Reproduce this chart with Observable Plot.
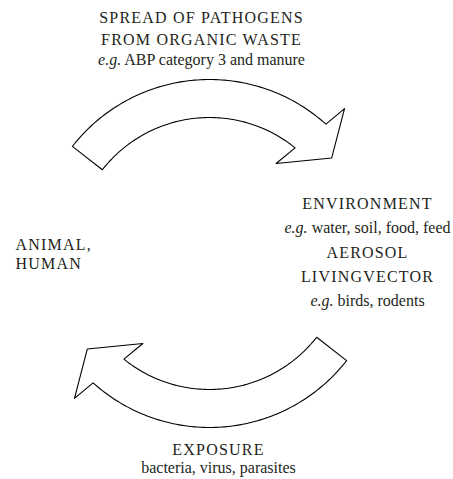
<!DOCTYPE html>
<html><head><meta charset="utf-8">
<script src="https://cdn.jsdelivr.net/npm/d3@7"></script>
<script src="https://cdn.jsdelivr.net/npm/@observablehq/plot@0.6"></script>
<style>
body{margin:0;background:#fff}
</style>
</head><body>
<div id="chart"></div>
<script>
// ---- text content ----
const topLines = ["SPREAD OF PATHOGENS", "FROM ORGANIC WASTE", "e.g. ABP category 3 and manure"];
const rightLines = ["ENVIRONMENT", "e.g. water, soil, food, feed", "AEROSOL", "LIVINGVECTOR", "e.g. birds, rodents"];
const leftLines = ["ANIMAL,", "HUMAN"];
const bottomLines = ["EXPOSURE", "bacteria, virus, parasites"];

// ---- cycle arrows (polar description around the cycle centre) ----
const arrowRadii = {outer: 174, inner: 136};
const arrowTailAngle = 142;          // degrees
const arrowHeadBase = {outer: 48, inner: 51};
const arrowHead = [[47, 198], [38, 155], [53.5, 112]]; // [angle, radius]
const arrowRotations = [0, 180];

const W = 453, H = 479;
const C = [209, 253];
const rad = Math.PI / 180;
const polar = (a, r, id) => ({x: C[0] + r * Math.cos(a * rad), y: C[1] - r * Math.sin(a * rad), id});

function arrowPath(rot, id) {
  const pts = [];
  for (let a = arrowTailAngle; a >= arrowHeadBase.outer; a -= 1) pts.push(polar(a + rot, arrowRadii.outer, id));
  pts.push(polar(arrowHeadBase.outer + rot, arrowRadii.outer, id));
  for (const [a, r] of arrowHead) pts.push(polar(a + rot, r, id));
  for (let a = arrowHeadBase.inner; a <= arrowTailAngle; a += 1) pts.push(polar(a + rot, arrowRadii.inner, id));
  pts.push(polar(arrowTailAngle + rot, arrowRadii.inner, id));
  return pts;
}
const arrowPts = arrowRotations.flatMap((r, i) => arrowPath(r, i));

const ink = "#231f20";
const serifStack = "'Liberation Serif', 'Times New Roman', 'DejaVu Serif', serif";
// baselines of each line
function block(lines, x0, baselines, anchor) {
  return Plot.text(lines.map((t, i) => ({t, x: x0, y: baselines[i]})), {
    x: "x", y: "y", text: "t", textAnchor: anchor, lineAnchor: "bottom",
    fontSize: 16, fontFamily: serifStack, fill: ink
  });
}

const chart = Plot.plot({
  width: W, height: H, margin: 0,
  x: {domain: [0, W], range: [0, W], axis: null},
  y: {domain: [0, H], range: [0, H], axis: null},
  marks: [
    Plot.line(arrowPts, {x: "x", y: "y", z: "id", curve: "linear-closed", fill: "white", stroke: "black", strokeWidth: 1.1}),
    block(topLines, 201, [22, 44, 64], "middle"),
    block(rightLines, 367, [208, 232, 257, 281, 305], "middle"),
    block(leftLines, 15, [249, 268], "start"),
    block(bottomLines, 218, [454, 472], "middle")
  ]
});
chart.setAttribute("font-family", serifStack);
chart.style.fontFamily = serifStack;
document.getElementById("chart").append(chart);

// serif on every text, italic "e.g." and tracked capitals
d3.select(chart).selectAll("text").each(function () {
  const t = this.textContent;
  const s = d3.select(this);
  s.attr("font-family", serifStack).style("font-family", serifStack);
  if (t.startsWith("e.g.")) {
    s.text(null);
    s.append("tspan").attr("font-style", "italic").attr("font-family", serifStack).text("e.g.");
    s.append("tspan").attr("font-family", serifStack).text(t.slice(4));
  } else if (t === t.toUpperCase()) {
    s.attr("letter-spacing", "1.2px");
  }
});
</script>
</body></html>
